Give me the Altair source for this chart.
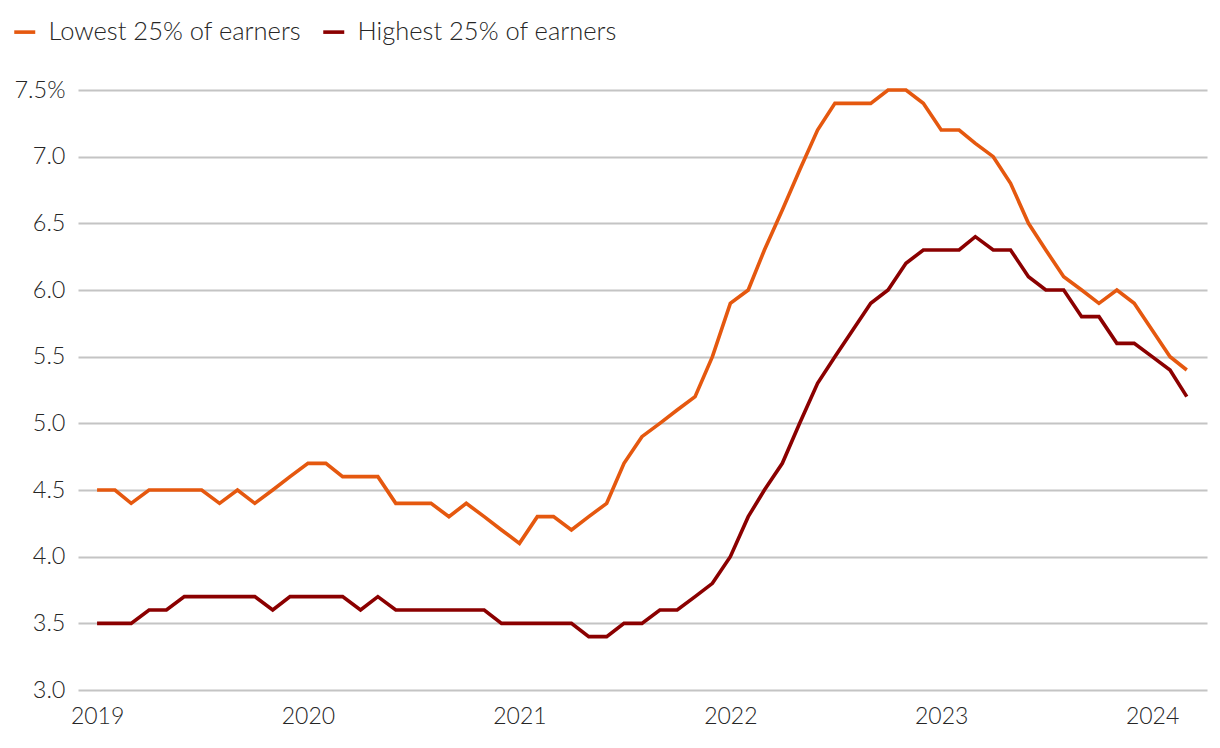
import altair as alt
import pandas as pd

years = [2019, 2020, 2021, 2022, 2023, 2024]
months = [f"{y}-{m:02d}-01T00:00:00" for y in years for m in range(1, 13)][:63]

lowest = [
    4.5, 4.5, 4.4, 4.5, 4.5, 4.5, 4.5, 4.4, 4.5, 4.4, 4.5, 4.6,
    4.7, 4.7, 4.6, 4.6, 4.6, 4.4, 4.4, 4.4, 4.3, 4.4, 4.3, 4.2,
    4.1, 4.3, 4.3, 4.2, 4.3, 4.4, 4.7, 4.9, 5.0, 5.1, 5.2, 5.5,
    5.9, 6.0, 6.3, 6.6, 6.9, 7.2, 7.4, 7.4, 7.4, 7.5, 7.5, 7.4,
    7.2, 7.2, 7.1, 7.0, 6.8, 6.5, 6.3, 6.1, 6.0, 5.9, 6.0, 5.9,
    5.7, 5.5, 5.4,
]
highest = [
    3.5, 3.5, 3.5, 3.6, 3.6, 3.7, 3.7, 3.7, 3.7, 3.7, 3.6, 3.7,
    3.7, 3.7, 3.7, 3.6, 3.7, 3.6, 3.6, 3.6, 3.6, 3.6, 3.6, 3.5,
    3.5, 3.5, 3.5, 3.5, 3.4, 3.4, 3.5, 3.5, 3.6, 3.6, 3.7, 3.8,
    4.0, 4.3, 4.5, 4.7, 5.0, 5.3, 5.5, 5.7, 5.9, 6.0, 6.2, 6.3,
    6.3, 6.3, 6.4, 6.3, 6.3, 6.1, 6.0, 6.0, 5.8, 5.8, 5.6, 5.6,
    5.5, 5.4, 5.2,
]
series_names = ["Lowest 25% of earners", "Highest 25% of earners"]
series_colors = ["#E5580F", "#8B0000"]
y_ticks = [3.0, 3.5, 4.0, 4.5, 5.0, 5.5, 6.0, 6.5, 7.0, 7.5]

df = pd.concat([
    pd.DataFrame({"date": months, "value": lowest, "series": series_names[0]}),
    pd.DataFrame({"date": months, "value": highest, "series": series_names[1]}),
])

FONT = "Lato"
TXT = "#262626"

chart = alt.Chart(df).mark_line(strokeWidth=3.6, strokeJoin="miter").encode(
    x=alt.X(
        "date:T",
        scale=alt.Scale(domain=[alt.DateTime(year=2018, month=11, date=29),
                                alt.DateTime(year=2024, month=4, date=5)]),
        axis=alt.Axis(title=None, format="%Y", tickCount={"interval": "year", "step": 1},
                      grid=False, domain=False, ticks=False, tickSize=0,
                      labelFont=FONT, labelFontSize=23, labelFontWeight=300,
                      labelColor=TXT, labelPadding=15, labelFlush=False),
    ),
    y=alt.Y(
        "value:Q",
        scale=alt.Scale(domain=[3.0, 7.5], nice=False, zero=False),
        axis=alt.Axis(title=None, values=y_ticks,
                      labelExpr="datum.value == 7.5 ? '7.5%' : format(datum.value, '.1f')",
                      grid=True, gridColor="#c4c4c4", gridWidth=2,
                      domain=False, ticks=False, tickSize=0,
                      labelFont=FONT, labelFontSize=23.5, labelFontWeight=300,
                      labelColor=TXT, labelPadding=13),
    ),
    color=alt.Color(
        "series:N",
        scale=alt.Scale(domain=series_names, range=series_colors),
        sort=series_names,
        legend=alt.Legend(title=None, orient="none", direction="horizontal",
                          legendX=-66, legendY=-71,
                          symbolType="stroke", symbolSize=441, symbolStrokeWidth=3.6,
                          labelFont=FONT, labelFontSize=25.5, labelFontWeight=300,
                          labelColor=TXT, labelOffset=11, columnPadding=14,
                          labelLimit=0),
    ),
).properties(
    width=1129, height=600,
    autosize=alt.AutoSizeParams(type="none"),
    padding={"left": 70, "top": 82, "right": 5, "bottom": 50},
).configure_view(stroke=None)

chart.save("out.html", embed_options={"renderer": "svg", "actions": False})
